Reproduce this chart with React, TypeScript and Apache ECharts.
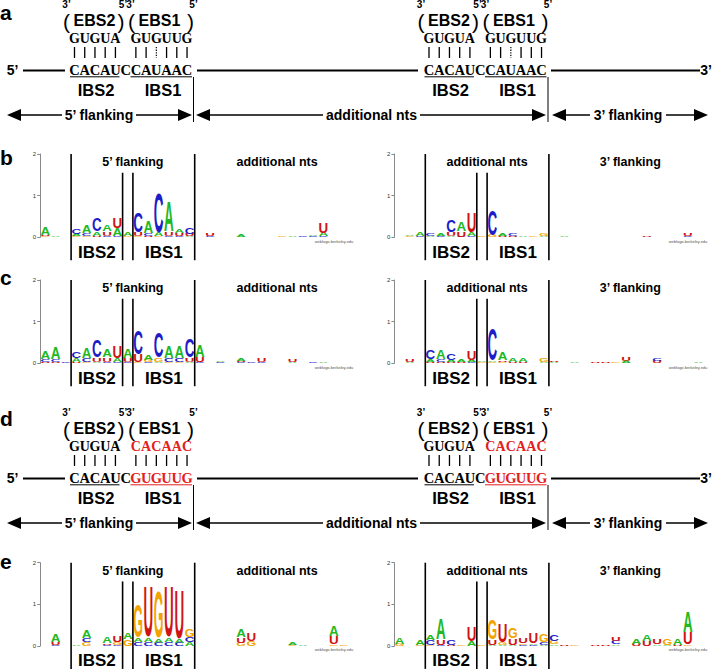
import React, { useEffect, useRef } from "react";
import * as echarts from "echarts";

// ---------- data ----------
const LETTERS = ["A", "C", "G", "U"];
const LETTER_COLORS = ["#22b822", "#1c1cc8", "#f3a300", "#d01414"];
const LETTER_WIDTH = [0.722, 0.722, 0.778, 0.722];

type Stack = [number, [string, number][]];

// each entry: [column, [[letter, bits], ...] bottom-to-top]
const logoBLeft: Stack[] = [
  [0, [["G", 0.02], ["U", 0.04], ["A", 0.18]]],
  [1, [["A", 0.02]]],
  [2, [["C", 0.01]]],
  [3, [["G", 0.03], ["A", 0.06], ["C", 0.12]]],
  [4, [["G", 0.03], ["C", 0.06], ["A", 0.18]]],
  [5, [["U", 0.04], ["A", 0.1], ["C", 0.3]]],
  [6, [["C", 0.04], ["U", 0.1], ["A", 0.14]]],
  [7, [["C", 0.03], ["A", 0.18], ["U", 0.24]]],
  [8, [["G", 0.03], ["A", 0.1]]],
  [9, [["G", 0.03], ["U", 0.08], ["C", 0.48]]],
  [10, [["U", 0.04], ["C", 0.06], ["A", 0.28]]],
  [11, [["G", 0.03], ["A", 0.08], ["C", 0.96]]],
  [12, [["C", 0.03], ["U", 0.1], ["A", 0.72]]],
  [13, [["C", 0.03], ["U", 0.06], ["A", 0.1]]],
  [14, [["A", 0.03], ["U", 0.05], ["C", 0.15]]],
  [16, [["C", 0.02], ["U", 0.05]]],
  [19, [["A", 0.05]]],
  [23, [["G", 0.03]]],
  [24, [["A", 0.04]]],
  [25, [["C", 0.02]]],
  [26, [["C", 0.02], ["A", 0.04]]],
  [27, [["C", 0.02], ["A", 0.08], ["U", 0.24]]],
];

const logoBRight: Stack[] = [
  [1, [["G", 0.02], ["A", 0.03]]],
  [2, [["C", 0.02], ["A", 0.08]]],
  [3, [["A", 0.03], ["C", 0.06]]],
  [4, [["C", 0.02], ["A", 0.06]]],
  [5, [["A", 0.03], ["U", 0.1], ["C", 0.28]]],
  [6, [["C", 0.02], ["U", 0.12], ["A", 0.22]]],
  [7, [["C", 0.02], ["A", 0.1], ["U", 0.48]]],
  [8, [["G", 0.03]]],
  [9, [["G", 0.05], ["C", 0.6]]],
  [10, [["U", 0.03], ["A", 0.06]]],
  [11, [["U", 0.02], ["C", 0.06]]],
  [12, [["A", 0.03]]],
  [13, [["G", 0.02]]],
  [14, [["A", 0.03], ["G", 0.05]]],
  [16, [["A", 0.03]]],
  [19, [["G", 0.01]]],
  [22, [["A", 0.01]]],
  [24, [["U", 0.04]]],
  [28, [["C", 0.03], ["U", 0.06]]],
];

const logoCLeft: Stack[] = [
  [0, [["U", 0.03], ["C", 0.06], ["A", 0.2]]],
  [1, [["U", 0.03], ["C", 0.06], ["A", 0.28]]],
  [2, [["C", 0.02]]],
  [3, [["U", 0.03], ["A", 0.1], ["C", 0.16]]],
  [4, [["G", 0.03], ["C", 0.08], ["A", 0.24]]],
  [5, [["A", 0.04], ["U", 0.1], ["C", 0.4]]],
  [6, [["C", 0.03], ["U", 0.1], ["A", 0.2]]],
  [7, [["C", 0.03], ["A", 0.1], ["U", 0.28]]],
  [8, [["C", 0.03], ["U", 0.1], ["A", 0.22]]],
  [9, [["G", 0.03], ["U", 0.2], ["C", 0.56]]],
  [10, [["C", 0.03], ["G", 0.05], ["A", 0.12]]],
  [11, [["A", 0.03], ["G", 0.1], ["C", 0.6]]],
  [12, [["G", 0.03], ["C", 0.1], ["A", 0.28]]],
  [13, [["G", 0.03], ["C", 0.1], ["A", 0.28]]],
  [14, [["A", 0.03], ["U", 0.1], ["C", 0.44]]],
  [15, [["C", 0.03], ["U", 0.12], ["A", 0.28]]],
  [17, [["C", 0.02], ["A", 0.04]]],
  [19, [["C", 0.02], ["U", 0.03], ["A", 0.05]]],
  [20, [["C", 0.03]]],
  [21, [["C", 0.03], ["U", 0.08]]],
  [24, [["A", 0.02], ["U", 0.06]]],
  [26, [["C", 0.03]]],
  [27, [["A", 0.02]]],
];

const logoCRight: Stack[] = [
  [1, [["A", 0.02], ["U", 0.06]]],
  [3, [["U", 0.04], ["A", 0.06], ["C", 0.22]]],
  [4, [["U", 0.04], ["C", 0.05], ["A", 0.22]]],
  [5, [["U", 0.04], ["A", 0.05], ["C", 0.15]]],
  [6, [["U", 0.03], ["A", 0.05]]],
  [7, [["C", 0.03], ["A", 0.05], ["U", 0.22]]],
  [8, [["G", 0.02], ["A", 0.04]]],
  [9, [["G", 0.03], ["A", 0.04], ["C", 0.76]]],
  [10, [["G", 0.03], ["U", 0.04], ["A", 0.18]]],
  [11, [["U", 0.03], ["A", 0.08]]],
  [12, [["U", 0.02], ["A", 0.1]]],
  [14, [["A", 0.02], ["G", 0.08]]],
  [15, [["A", 0.02], ["U", 0.03]]],
  [17, [["A", 0.02]]],
  [19, [["U", 0.02]]],
  [20, [["U", 0.02]]],
  [21, [["G", 0.02]]],
  [22, [["A", 0.06], ["U", 0.1]]],
  [25, [["U", 0.06], ["C", 0.07]]],
  [29, [["A", 0.02]]],
];

const logoELeft: Stack[] = [
  [1, [["C", 0.03], ["U", 0.05], ["A", 0.18]]],
  [3, [["A", 0.02]]],
  [4, [["G", 0.1], ["C", 0.08], ["A", 0.2]]],
  [6, [["C", 0.03], ["U", 0.04], ["A", 0.16]]],
  [7, [["C", 0.03], ["G", 0.06], ["U", 0.14]]],
  [8, [["G", 0.16], ["A", 0.16]]],
  [9, [["C", 0.1], ["A", 0.1], ["G", 0.8]]],
  [10, [["C", 0.1], ["A", 0.1], ["U", 1.2]]],
  [11, [["C", 0.08], ["A", 0.1], ["G", 1.12]]],
  [12, [["C", 0.1], ["A", 0.1], ["U", 1.2]]],
  [13, [["C", 0.08], ["A", 0.1], ["U", 1.18]]],
  [14, [["A", 0.1], ["C", 0.12], ["G", 0.2]]],
  [19, [["G", 0.08], ["U", 0.12], ["A", 0.2]]],
  [20, [["G", 0.12], ["U", 0.2]]],
  [24, [["G", 0.03], ["A", 0.05]]],
  [25, [["A", 0.03]]],
  [28, [["G", 0.04], ["U", 0.2], ["A", 0.24]]],
  [29, [["G", 0.02]]],
];

const logoERight: Stack[] = [
  [0, [["G", 0.05], ["A", 0.14]]],
  [2, [["G", 0.02], ["A", 0.12]]],
  [3, [["G", 0.02], ["C", 0.12], ["A", 0.12]]],
  [4, [["C", 0.03], ["U", 0.12], ["A", 0.52]]],
  [5, [["U", 0.03], ["C", 0.12]]],
  [6, [["G", 0.02]]],
  [7, [["A", 0.12], ["U", 0.36]]],
  [8, [["G", 0.02]]],
  [9, [["A", 0.03], ["U", 0.12], ["G", 0.48]]],
  [10, [["A", 0.03], ["G", 0.06], ["U", 0.44]]],
  [11, [["A", 0.03], ["U", 0.16], ["G", 0.24]]],
  [12, [["C", 0.03], ["G", 0.04], ["U", 0.12]]],
  [13, [["C", 0.03], ["A", 0.04], ["U", 0.24]]],
  [14, [["A", 0.03], ["C", 0.05], ["G", 0.2]]],
  [15, [["A", 0.04], ["G", 0.08], ["C", 0.14]]],
  [16, [["U", 0.02]]],
  [17, [["G", 0.02]]],
  [19, [["U", 0.02]]],
  [20, [["U", 0.02]]],
  [21, [["A", 0.04], ["C", 0.08], ["U", 0.08]]],
  [23, [["U", 0.06], ["A", 0.12]]],
  [24, [["U", 0.12], ["A", 0.16]]],
  [25, [["A", 0.04], ["U", 0.12]]],
  [26, [["A", 0.03], ["G", 0.16]]],
  [27, [["U", 0.03], ["A", 0.16]]],
  [28, [["G", 0.03], ["U", 0.28], ["A", 0.5]]],
];

const Y_TICKS = [0, 1, 2];
const DIVIDER_COLS = [3, 8, 9, 15];
const DIVIDER_TOPS = [2, 1.55, 1.55, 2];
const DIVIDER_BOTTOM = -0.55;
const LEFT_TITLES: [string, number][] = [["5\u2019 flanking", 9], ["additional nts", 23]];
const RIGHT_TITLES: [string, number][] = [["additional nts", 9], ["3\u2019 flanking", 22.9]];
const IBS_LABELS: [string, number][] = [["IBS2", 5.5], ["IBS1", 12]];

const EBS2_SEQ = "GUGUA";
const EBS1_SEQ_A = "GUGUUG";
const EBS1_SEQ_D = "CACAAC";
const IBS_SEQ_A = "CACAUCCAUAAC";
const IBS_SEQ_D = "CACAUCGUGUUG";

// ---------- layout ----------
const SANS = '"Liberation Sans", Arial, Helvetica, sans-serif';
const SERIF = '"Liberation Serif", "Times New Roman", serif';
const RED = "#e3201b";
const N_COLS = 30;
const COL_W = 10.3;
const GRID_LEFT = [40.2, 394.4];
const GRID_TOP = [154, 280, 562.7];
const GRID_H = 83.3;
const FS = 40;

function txt(x: number, y: number, text: string, font: string, fill = "#000", align = "center") {
  return {
    type: "text",
    x,
    y,
    silent: true,
    style: { text, font, fill, align, verticalAlign: "middle", textAlign: align, textVerticalAlign: "middle" },
  };
}
function ln(x1: number, y1: number, x2: number, y2: number, w = 1.5, color = "#000", dash?: number[]) {
  return {
    type: "line",
    silent: true,
    shape: { x1, y1, x2, y2 },
    style: { stroke: color, lineWidth: w, lineDash: dash },
  };
}
function tri(tipX: number, y: number, dir: number) {
  const bx = tipX - dir * 14;
  return {
    type: "polygon",
    silent: true,
    shape: { points: [[tipX, y], [bx, y - 6], [bx, y + 6]] },
    style: { fill: "#000" },
  };
}

function ibsX(i: number) {
  return 74.5 + i * 10.23;
}

function schematic(yo: number, variantD: boolean) {
  const els: any[] = [];
  const ebs1 = variantD ? EBS1_SEQ_D : EBS1_SEQ_A;
  const ibs = variantD ? IBS_SEQ_D : IBS_SEQ_A;
  const primeFont = `bold 10px ${SANS}`;
  for (const dx of [0, 354.5]) {
    els.push(txt(66.5 + dx, 4 + yo, "3\u2019", primeFont));
    els.push(txt(123 + dx, 4 + yo, "5\u2019", primeFont));
    els.push(txt(130.5 + dx, 4 + yo, "3\u2019", primeFont));
    els.push(txt(193.5 + dx, 4 + yo, "5\u2019", primeFont));
    const parenFont = `21px ${SANS}`;
    els.push(txt(66.5 + dx, 21 + yo, "(", parenFont));
    els.push(txt(94.5 + dx, 20.5 + yo, "EBS2", `bold 16px ${SANS}`));
    els.push(txt(121 + dx, 21 + yo, ")", parenFont));
    els.push(txt(131.5 + dx, 21 + yo, "(", parenFont));
    els.push(txt(159.5 + dx, 20.5 + yo, "EBS1", `bold 16px ${SANS}`));
    els.push(txt(190.5 + dx, 21 + yo, ")", parenFont));
    const seqFont = `bold 14px ${SERIF}`;
    for (let i = 0; i < EBS2_SEQ.length; i++) {
      els.push(txt(ibsX(i) + dx, 38.5 + yo, EBS2_SEQ[i], seqFont));
      els.push(ln(ibsX(i) + dx, 47 + yo, ibsX(i) + dx, 58 + yo, 1.3));
    }
    for (let i = 0; i < ebs1.length; i++) {
      const xi = ibsX(i + 6) + dx;
      els.push(txt(xi, 38.5 + yo, ebs1[i], seqFont, variantD ? RED : "#000"));
      const dotted = !variantD && i === 2;
      els.push(ln(xi, 47 + yo, xi, 58 + yo, dotted ? 1.2 : 1.3, "#000", dotted ? [1.3, 1.3] : undefined));
    }
    const ibsFont = `bold 14.5px ${SERIF}`;
    for (let i = 0; i < ibs.length; i++) {
      els.push(txt(ibsX(i) + dx, 69.5 + yo, ibs[i], ibsFont, variantD && i >= 6 ? RED : "#000"));
    }
    els.push(ln(70 + dx, 76.8 + yo, 119.5 + dx, 76.8 + yo, 1));
    els.push(ln(130.5 + dx, 76.8 + yo, 192 + dx, 76.8 + yo, 1, variantD ? RED : "#000"));
    els.push(txt(96 + dx, 89.5 + yo, "IBS2", `bold 16.5px ${SANS}`));
    els.push(txt(163 + dx, 89.5 + yo, "IBS1", `bold 16.5px ${SANS}`));
    els.push(ln(193.5 + dx, 77 + yo, 193.5 + dx, 122 + yo, 1));
  }
  // backbone
  els.push(txt(12.5, 70 + yo, "5\u2019", `bold 14px ${SANS}`));
  els.push(txt(706, 70 + yo, "3\u2019", `bold 14px ${SANS}`));
  els.push(ln(23, 70.5 + yo, 65, 70.5 + yo, 1.8));
  els.push(ln(197, 70.5 + yo, 418, 70.5 + yo, 1.8));
  els.push(ln(551, 70.5 + yo, 700, 70.5 + yo, 1.8));
  // arrows
  const ay = 115 + yo;
  const aFont = `bold 14px ${SANS}`;
  els.push(tri(7, ay, -1), ln(20, ay, 62, ay, 1.5));
  els.push(txt(99, ay, "5\u2019 flanking", aFont));
  els.push(ln(136, ay, 179, ay, 1.5), tri(192, ay, 1));
  els.push(tri(196, ay, -1), ln(209, ay, 323, ay, 1.5));
  els.push(txt(371.5, ay, "additional nts", aFont));
  els.push(ln(420, ay, 533, ay, 1.5), tri(546, ay, 1));
  els.push(tri(552, ay, -1), ln(565, ay, 590, ay, 1.5));
  els.push(txt(628, ay, "3\u2019 flanking", aFont));
  els.push(ln(666, ay, 695, ay, 1.5), tri(708, ay, 1));
  return els;
}

function stackData(stacks: Stack[]) {
  const rows: number[][] = [];
  for (const [col, letters] of stacks) {
    let base = 0;
    for (const [ch, h] of letters) {
      rows.push([col, base, base + h, LETTERS.indexOf(ch)]);
      base += h;
    }
  }
  return rows;
}

function renderLetter(_params: any, api: any) {
  const col = api.value(0);
  const y0 = api.value(1);
  const y1 = api.value(2);
  const li = api.value(3);
  const a = api.coord([col, y0]);
  const b = api.coord([col + 1, y1]);
  const w = b[0] - a[0];
  const h = a[1] - b[1];
  if (h < 0.15) return { type: "group", children: [] };
  return {
    type: "text",
    x: (a[0] + b[0]) / 2,
    y: (a[1] + b[1]) / 2,
    scaleX: (w * 0.94) / (LETTER_WIDTH[li] * FS),
    scaleY: h / (0.716 * FS),
    silent: true,
    style: {
      text: LETTERS[li],
      font: `bold ${FS}px ${SANS}`,
      fill: LETTER_COLORS[li],
      align: "center",
      verticalAlign: "middle",
      textAlign: "center",
      textVerticalAlign: "middle",
    },
  };
}

function renderDivider(_params: any, api: any) {
  const x = api.value(0);
  const top = api.coord([x, api.value(1)]);
  const bot = api.coord([x, api.value(2)]);
  return {
    type: "line",
    silent: true,
    shape: { x1: top[0], y1: top[1], x2: bot[0], y2: bot[1] },
    style: { stroke: "#000", lineWidth: 1.6 },
  };
}

export default function App() {
  const ref = useRef<HTMLDivElement>(null);
  useEffect(() => {
    if (!ref.current) return;
    const chart = echarts.init(ref.current, undefined, { renderer: "svg" });
    const panels = [
      [logoBLeft, logoBRight],
      [logoCLeft, logoCRight],
      [logoELeft, logoERight],
    ];
    const grid: any[] = [];
    const xAxis: any[] = [];
    const yAxis: any[] = [];
    const series: any[] = [];
    let gi = 0;
    panels.forEach((pair, pi) => {
      pair.forEach((stacks, side) => {
        grid.push({ left: GRID_LEFT[side], top: GRID_TOP[pi], width: N_COLS * COL_W, height: GRID_H });
        xAxis.push({ gridIndex: gi, type: "value", min: 0, max: N_COLS, show: false });
        yAxis.push({
          gridIndex: gi,
          type: "value",
          min: Y_TICKS[0],
          max: Y_TICKS[Y_TICKS.length - 1],
          interval: 1,
          offset: 2,
          axisLine: { show: true, lineStyle: { color: "#8a8a8a", width: 1 } },
          axisTick: { show: true, length: 3, lineStyle: { color: "#8a8a8a" } },
          axisLabel: { fontSize: 6, color: "#333", margin: 2, fontFamily: SANS },
          splitLine: { show: false },
        });
        series.push({
          type: "custom",
          xAxisIndex: gi,
          yAxisIndex: gi,
          renderItem: renderLetter,
          data: stackData(stacks),
          silent: true,
        });
        series.push({
          type: "custom",
          xAxisIndex: gi,
          yAxisIndex: gi,
          renderItem: renderDivider,
          data: DIVIDER_COLS.map((c, i) => [c, DIVIDER_TOPS[i], DIVIDER_BOTTOM]),
          silent: true,
        });
        const titles = side === 0 ? LEFT_TITLES : RIGHT_TITLES;
        const labelRows = [
          ...titles.map(([t, c]) => ({ value: [c, 1.81, 0], name: t })),
          ...IBS_LABELS.map(([t, c]) => ({ value: [c, -0.36, 1], name: t })),
        ];
        series.push({
          type: "custom",
          xAxisIndex: gi,
          yAxisIndex: gi,
          data: labelRows,
          silent: true,
          renderItem: (params: any, api: any) => {
            const p = api.coord([api.value(0), api.value(1)]);
            const kind = api.value(2);
            const t = labelRows[params.dataIndex].name;
            return {
              type: "text",
              x: p[0],
              y: p[1],
              silent: true,
              style: {
                text: t,
                font: kind === 0 ? `bold 12.5px ${SANS}` : `bold 17px ${SANS}`,
                fill: "#000",
                align: "center",
                verticalAlign: "middle",
                textAlign: "center",
                textVerticalAlign: "middle",
              },
            };
          },
        });
        gi++;
      });
    });

    const graphics: any[] = [
      ...schematic(0, false),
      ...schematic(408, true),
      txt(0, 12, "a", `bold 21px ${SANS}`, "#000", "left"),
      txt(0, 157.5, "b", `bold 21px ${SANS}`, "#000", "left"),
      txt(0, 277, "c", `bold 21px ${SANS}`, "#000", "left"),
      txt(0, 418, "d", `bold 21px ${SANS}`, "#000", "left"),
      txt(0, 561.5, "e", `bold 21px ${SANS}`, "#000", "left"),
    ];
    const webY = [241.5, 367, 649.5];
    webY.forEach((y) => {
      graphics.push(txt(334, y, "weblogo.berkeley.edu", `4px ${SANS}`, "#555"));
      graphics.push(txt(688, y, "weblogo.berkeley.edu", `4px ${SANS}`, "#555"));
    });

    chart.setOption({
      animation: false,
      backgroundColor: "#fff",
      grid,
      xAxis,
      yAxis,
      series,
      graphic: { elements: graphics },
    });
    return () => chart.dispose();
  }, []);
  return (
    <div
      ref={ref}
      style={{ position: "absolute", left: 0, top: 0, width: 713, height: 669, background: "#fff" }}
    />
  );
}
